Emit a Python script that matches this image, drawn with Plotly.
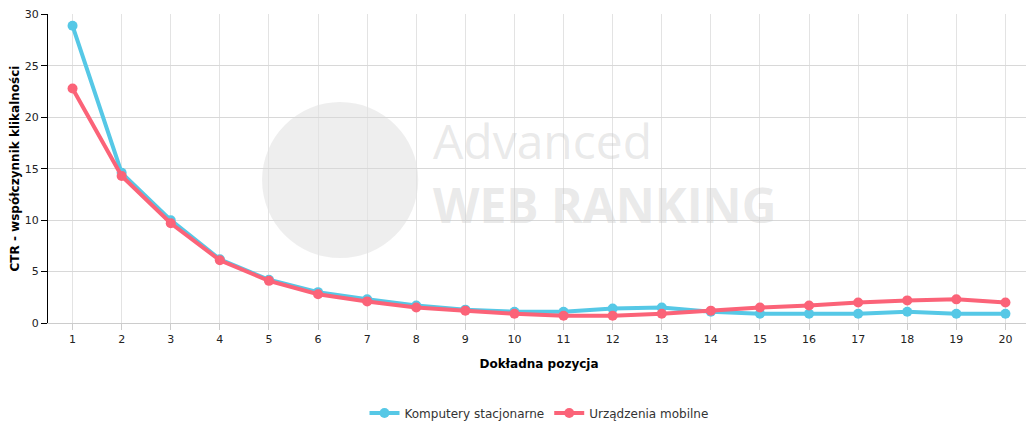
import plotly.graph_objects as go

positions = [str(i) for i in range(1, 21)]
desktop = [28.9,14.6,10.0,6.2,4.2,3.0,2.3,1.7,1.3,1.1,1.1,1.4,1.5,1.1,0.9,0.9,0.9,1.1,0.9,0.9]
mobile = [22.8,14.3,9.7,6.1,4.1,2.8,2.1,1.5,1.2,0.9,0.7,0.7,0.9,1.2,1.5,1.7,2.0,2.2,2.3,2.0]

fig = go.Figure()
fig.add_trace(go.Scatter(x=positions, y=desktop, name="Komputery stacjonarne", mode="lines+markers",
                         line=dict(color="#56c8e6", width=4), marker=dict(size=10, color="#56c8e6")))
fig.add_trace(go.Scatter(x=positions, y=mobile, name="Urządzenia mobilne", mode="lines+markers",
                         line=dict(color="#fb6378", width=4), marker=dict(size=10, color="#fb6378")))

# watermark
fig.add_shape(type="circle", xref="paper", yref="paper", x0=0.218, x1=0.377, y0=0.210, y1=0.715,
              fillcolor="rgba(200,200,200,0.3)", line=dict(width=0), layer="below")
fig.add_annotation(xref="paper", yref="paper", x=0.39, y=0.592, xanchor="left", yanchor="middle", text="Advanced",
                   showarrow=False, font=dict(family="Open Sans", size=48, color="rgba(200,200,200,0.4)"))
fig.add_annotation(xref="paper", yref="paper", x=0.39, y=0.382, xanchor="left", yanchor="middle", text="<b>WEB RANKING</b>",
                   showarrow=False, font=dict(family="Open Sans", size=48, color="rgba(200,200,200,0.4)"))

fig.update_layout(
    width=1026, height=416, paper_bgcolor="white", plot_bgcolor="white",
    margin=dict(l=40, r=4, t=6, b=101, autoexpand=False),
    font=dict(family="DejaVu Sans", size=11, color="#222"),
    showlegend=True,
    legend=dict(orientation="h", x=0.5, xanchor="center", y=-0.291, yanchor="middle",
                font=dict(size=12, color="#333")),
    xaxis=dict(type="category", range=[-0.5, 19.5], showgrid=True, gridcolor="#e3e3e3",
               ticks="outside", tickcolor="#ccc", ticklen=6, showline=True, linecolor="#ccc",
               title=dict(text="<b>Dokładna pozycja</b>", font=dict(size=12, color="#000"), standoff=14)),
    yaxis=dict(range=[0, 30.05], dtick=5, showgrid=True, gridcolor="#d8d8d8",
               ticks="outside", tickcolor="#000", ticklen=6, showline=True, linecolor="#000", zeroline=False,
               title=dict(text="<b>CTR - współczynnik klikalności</b>", font=dict(size=12, color="#000"), standoff=10)),
)
fig.write_html("out.html")
